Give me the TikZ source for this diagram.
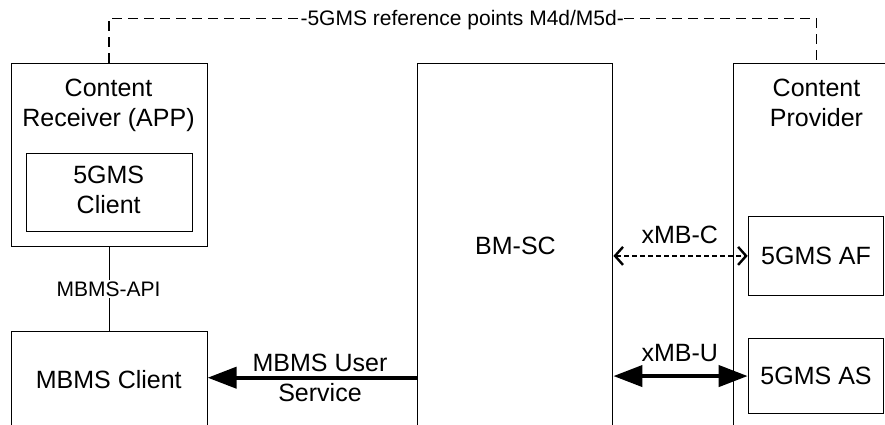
\documentclass[tikz,border=0pt]{standalone}
\usepackage{fontspec}
\setmainfont{Liberation Sans}
\usetikzlibrary{arrows.meta}
\tikzset{
  box/.style={draw, line width=1.1pt, rectangle, inner sep=0pt, anchor=north west},
  big/.style={font=\fontsize{25}{30}\selectfont, inner sep=0pt, align=center},
  small/.style={font=\fontsize{21}{25}\selectfont, inner sep=0pt},
  conn/.style={line width=1.1pt},
  refline/.style={line width=1.4pt, dash pattern=on 10pt off 6pt},
  ctrl/.style={line width=2.4pt, dash pattern=on 5pt off 3pt, {Straight Barb[length=8pt,width=18pt]}-{Straight Barb[length=8pt,width=18pt]}},
  userarrow/.style={line width=4pt, -{Triangle[length=29pt,width=21pt]}},
  dataarrow/.style={line width=4pt, {Triangle[length=29pt,width=21pt]}-{Triangle[length=29pt,width=21pt]}},
}
\begin{document}
\begin{tikzpicture}[x=1pt,y=-1pt]
\clip (0,0) rectangle (885,425);
% boxes
\node[box, minimum width=196pt, minimum height=183pt] (recv) at (10.5,63) {};
\node[box, minimum width=166pt, minimum height=78.3pt] (gclient) at (25.7,152.7) {};
\node[box, minimum width=196pt, minimum height=110pt] (mc) at (10.5,331) {};
\node[box, minimum width=195.6pt, minimum height=380pt] (bmsc) at (416.7,63) {};
\node[box, minimum width=166.6pt, minimum height=380pt] (prov) at (732.7,63) {};
\node[box, minimum width=135.6pt, minimum height=79.3pt] (af) at (747.7,215.7) {};
\node[box, minimum width=135.6pt, minimum height=75.6pt] (as) at (747.7,337.7) {};
% texts
\node[big, anchor=north] (trecv) at (108.5,78.5) {Content\\Receiver (APP)};
\node[big, anchor=north] (tgc) at (108.7,166.3) {5GMS\\Client};
\node[big, anchor=north] (tprov) at (816.5,79) {Content\\Provider};
\node[big] (tbmsc) at (515.5,246) {BM-SC};
\node[big] (tmc) at (108.8,379.7) {MBMS Client};
\node[big] (taf) at (af.center) {5GMS AF};
\node[big] (tas) at (as.center) {5GMS AS};
% reference line
\coordinate (dl) at (recv.north |- 0,18.3);
\coordinate (dr) at (prov.north |- 0,18.3);
\draw[refline] (recv.north) -- (dl) -- (dr) -- (prov.north);
\node[small, fill=white, anchor=base] (reflabel) at (462.2,25.3) {-5GMS reference points M4d/M5d-};
% MBMS-API
\draw[conn] (recv.south) -- (mc.north);
\node[small, fill=white, inner sep=2pt] (api) at (108.5,289) {MBMS-API};
% MBMS User Service
\coordinate (usy) at (0,377.7);
\draw[userarrow] (bmsc.west |- usy) -- (mc.east |- usy);
\node[big, anchor=north] (tus) at (320,353.8) {MBMS User\\Service};
% xMB-C
\draw[ctrl] (bmsc.east |- af.west) -- (af.west);
\node[big] (txc) at (679.8,235) {xMB-C};
% xMB-U
\draw[dataarrow] (bmsc.east |- as.west) -- (as.west);
\node[big] (txu) at (679.8,353.5) {xMB-U};
\end{tikzpicture}
\end{document}
